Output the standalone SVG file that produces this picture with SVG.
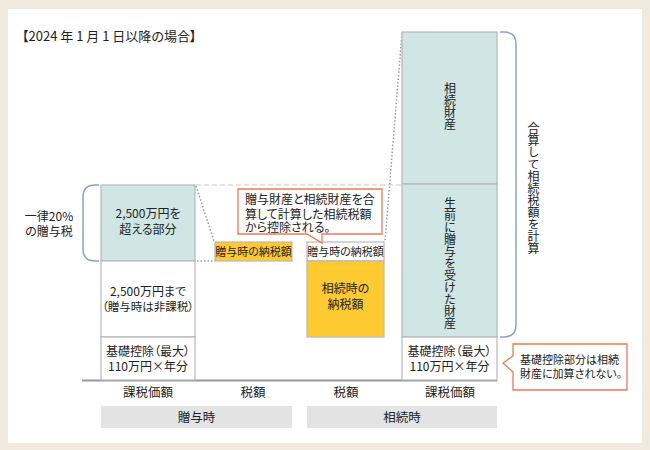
<svg xmlns="http://www.w3.org/2000/svg" width="650" height="450" viewBox="0 0 650 450">
<style>
text{font-family:"Noto Sans CJK JP","Noto Sans",sans-serif;fill:#222;font-feature-settings:"palt";}
.c{text-anchor:middle;}
.f12{font-size:12px;}
.f11{font-size:11px;}
.f13{font-size:12.5px;}
.box{stroke:#b8b8b8;stroke-width:1.2;}
.teal{fill:#cfe6e4;}
.wh{fill:#fff;}
.yel{fill:#fdca30;}
.brace{fill:none;stroke:#8aa3c9;stroke-width:1.5;}
.dot{fill:none;stroke:#9a9a9a;stroke-width:1.5;stroke-dasharray:1.5 2;}
.dash{fill:none;stroke:#c8c8c8;stroke-width:1.2;stroke-dasharray:5 3;}
.call{fill:#fff;stroke:#ee7a50;stroke-width:1.3;}
.bar{fill:#e3e3e3;}
.v{writing-mode:vertical-rl;font-size:12px;font-feature-settings:normal;}
</style>
<rect x="0" y="0" width="650" height="450" fill="#f3eadf"/>
<rect x="8" y="9" width="634" height="434" fill="#fff"/>
<text x="22" y="41" style="font-size:13px">【2024 年 1 月 1 日以降の場合】</text>

<g id="connectors">
<path class="dash" d="M196 185 H402"/>
<path class="dot" d="M196 186 L214 241"/>
<path class="dot" d="M197 261 H214"/>
<path class="dot" d="M402 33 L385 241"/>
<path d="M82 380.5 H497" stroke="#9a9a9a" stroke-width="2"/>
</g>

<g id="gift-brace">
<path class="brace" d="M99 185 H95 Q83 185 83 197 V249 Q83 261 95 261 H99"/>
<text class="c f12"><tspan x="49" y="221">一律20%</tspan><tspan x="49" y="236">の贈与税</tspan></text>
</g>

<g id="gift-over">
<rect x="101" y="185" width="94" height="76" class="box teal"/>
<text class="c f12"><tspan x="148" y="218">2,500万円を</tspan><tspan x="148" y="234">超える部分</tspan></text>
</g>
<g id="gift-under">
<rect x="101" y="261" width="94" height="76" class="box wh"/>
<text class="c f12"><tspan x="148" y="296">2,500万円まで</tspan><tspan x="148" y="311" style="font-size:11.5px">（贈与時は非課税）</tspan></text>
</g>
<g id="gift-basic">
<rect x="101" y="337" width="94" height="43" class="box wh"/>
<text class="c f12"><tspan x="148" y="356">基礎控除（最大）</tspan><tspan x="148" y="371">110万円×年分</tspan></text>
</g>

<g id="gift-tax">
<rect x="215" y="242" width="77" height="19" class="box yel"/>
<text x="253.5" y="256" class="c f11">贈与時の納税額</text>
</g>

<g id="inh-gifttax">
<rect x="307" y="242" width="77" height="19" class="box wh"/>
<text x="345.5" y="256" class="c f11">贈与時の納税額</text>
</g>
<g id="inh-tax">
<rect x="307" y="261" width="77" height="76" class="box yel"/>
<text class="c f12"><tspan x="345.5" y="293">相続時の</tspan><tspan x="345.5" y="309">納税額</tspan></text>
</g>

<g id="callout-top">
<path class="call" d="M238 189 H382 V234 H322 V243 L307 234 H238 Z"/>
<text class="f12"><tspan x="245" y="204">贈与財産と相続財産を合</tspan><tspan x="245" y="218.5">算して計算した相続税額</tspan><tspan x="245" y="232">から控除される。</tspan></text>
</g>

<g id="inh-estate">
<rect x="402" y="32" width="95" height="152" class="box teal"/>
<text x="450" y="82" class="v">相続財産</text>
</g>
<g id="inh-gifted">
<rect x="402" y="184" width="95" height="153" class="box teal"/>
<text x="450" y="197" class="v">生前に贈与を受けた財産</text>
</g>
<g id="inh-basic">
<rect x="402" y="337" width="95" height="43" class="box wh"/>
<text class="c f12"><tspan x="449.5" y="356">基礎控除（最大）</tspan><tspan x="449.5" y="371">110万円×年分</tspan></text>
</g>

<g id="inh-brace">
<path class="brace" d="M500 32 H504 Q516 32 516 44 V325 Q516 337 504 337 H500"/>
<text x="533.5" y="122" class="v">合算して相続税額を計算</text>
</g>

<g id="callout-right">
<path class="call" d="M513 344 H627 V390 H513 V372 L503 363 L513 356 Z"/>
<text class="f11"><tspan x="520" y="364">基礎控除部分は相続</tspan><tspan x="520" y="378">財産に加算されない。</tspan></text>
</g>

<g id="axis-labels">
<text x="148" y="397" class="c f13">課税価額</text>
<text x="253" y="397" class="c f13">税額</text>
<text x="346" y="397" class="c f13">税額</text>
<text x="450" y="397" class="c f13">課税価額</text>
</g>
<g id="bar-gift">
<rect x="101" y="406" width="191" height="22" class="bar"/>
<text x="196.5" y="422" class="c f13">贈与時</text>
</g>
<g id="bar-inh">
<rect x="307" y="406" width="190" height="22" class="bar"/>
<text x="402" y="422" class="c f13">相続時</text>
</g>
</svg>
